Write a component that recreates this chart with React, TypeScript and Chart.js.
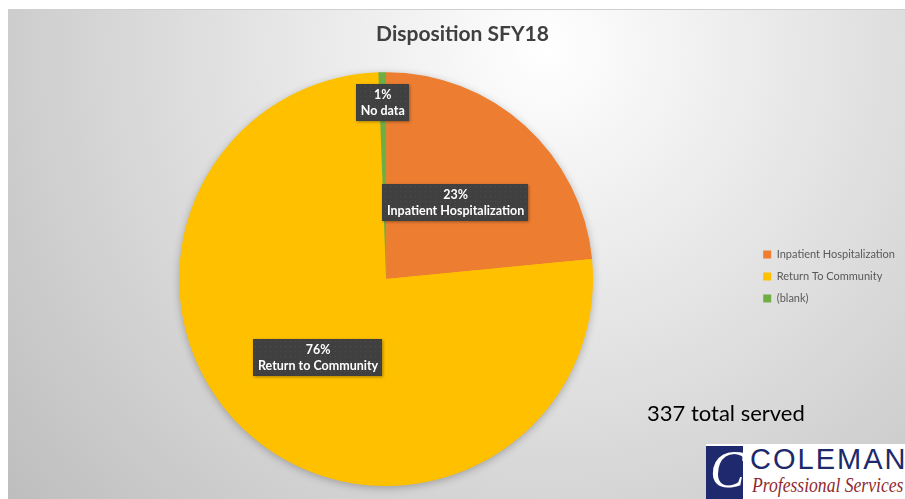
import React, { useEffect, useRef } from "react";
import { Chart, registerables } from "chart.js";

Chart.register(...registerables);

const categories = ["Inpatient Hospitalization", "Return To Community", "(blank)"];
const dataLabels = ["Inpatient Hospitalization", "Return to Community", "No data"];
const served = [79, 256, 2];
const sliceColors = ["#ED7D31", "#FFC000", "#70AD47"];
const labelRadius = [0.5, 0.5, 0.855];
const chartTitle = "Disposition SFY18";
const totalNote = "337 total served";

const bgPlugin = {
  id: "bgPlugin",
  beforeDraw(chart: any) {
    const { ctx, width, height } = chart;
    ctx.save();
    const cx = width * 0.6;
    const g = ctx.createRadialGradient(cx, 40, 0, cx, 40, 720);
    g.addColorStop(0, "#ffffff");
    g.addColorStop(1, "#bcbcbc");
    ctx.fillStyle = g;
    ctx.fillRect(0, 0, width, height);
    ctx.fillStyle = "#d0d0d0";
    ctx.fillRect(0, 0, width, 1);
    ctx.restore();
  },
  beforeDatasetsDraw(chart: any) {
    const meta = chart.getDatasetMeta(0);
    const arc = meta.data[0];
    if (!arc) return;
    const { x, y, outerRadius } = arc.getProps(["x", "y", "outerRadius"], true);
    const ctx = chart.ctx;
    ctx.save();
    ctx.shadowColor = "rgba(0,0,0,0.28)";
    ctx.shadowBlur = 9;
    ctx.shadowOffsetY = 2;
    ctx.beginPath();
    ctx.arc(x, y, outerRadius - 0.5, 0, Math.PI * 2);
    ctx.fillStyle = sliceColors[1];
    ctx.fill();
    ctx.restore();
  },
};

function makePattern(ctx: CanvasRenderingContext2D) {
  const c = document.createElement("canvas");
  c.width = 5;
  c.height = 5;
  const p = c.getContext("2d")!;
  p.fillStyle = "#404040";
  p.fillRect(0, 0, 5, 5);
  p.fillStyle = "#4f4f4f";
  p.fillRect(2, 2, 1, 1);
  return ctx.createPattern(c, "repeat");
}

const labelPlugin = {
  id: "labelPlugin",
  afterDatasetsDraw(chart: any) {
    const ctx: CanvasRenderingContext2D = chart.ctx;
    const meta = chart.getDatasetMeta(0);
    const total = served.reduce((a, b) => a + b, 0);
    const pattern = makePattern(ctx);
    meta.data.forEach((arc: any, i: number) => {
      const { x, y, startAngle, endAngle, outerRadius } = arc.getProps(
        ["x", "y", "startAngle", "endAngle", "outerRadius"],
        true
      );
      const mid = (startAngle + endAngle) / 2;
      const r = outerRadius * labelRadius[i];
      const cx = x + Math.cos(mid) * r;
      const cy = y + Math.sin(mid) * r;
      const pct = Math.round((served[i] / total) * 100) + "%";
      ctx.save();
      ctx.font = "bold 12.5px Lato";
      const w = Math.max(ctx.measureText(pct).width, ctx.measureText(dataLabels[i]).width) + 9;
      const h = 37;
      ctx.shadowColor = "rgba(0,0,0,0.35)";
      ctx.shadowBlur = 3;
      ctx.shadowOffsetX = 1;
      ctx.shadowOffsetY = 1;
      ctx.fillStyle = pattern || "#404040";
      ctx.fillRect(Math.round(cx - w / 2), Math.round(cy - h / 2), Math.round(w), h);
      ctx.shadowColor = "transparent";
      ctx.fillStyle = "#ffffff";
      ctx.textAlign = "center";
      ctx.textBaseline = "middle";
      ctx.fillText(pct, cx, cy - 7);
      ctx.fillText(dataLabels[i], cx, cy + 9);
      ctx.restore();
    });
  },
};

export default function App() {
  const canvasRef = useRef<HTMLCanvasElement | null>(null);

  useEffect(() => {
    if (!canvasRef.current) return;
    Chart.defaults.font.family = "Lato, 'Open Sans', sans-serif";
    const chart = new Chart(canvasRef.current, {
      type: "pie",
      data: {
        labels: categories,
        datasets: [
          {
            data: served,
            backgroundColor: sliceColors,
            borderWidth: 0,
          },
        ],
      },
      options: {
        animation: false,
        responsive: true,
        maintainAspectRatio: false,
        layout: { padding: { top: 0, bottom: 13, left: 12, right: 0 } },
        plugins: {
          title: {
            display: true,
            text: chartTitle,
            color: "#404040",
            font: { size: 21, weight: "bold", family: "Lato" },
            padding: { top: 13, bottom: 25 },
          },
          legend: {
            position: "right",
            title: {
              display: true,
              text: " ",
              font: { size: 10 },
              padding: { top: 23, bottom: 23 },
            },
            labels: {
              boxWidth: 8,
              boxHeight: 8,
              padding: 11,
              color: "#595959",
              font: { size: 11, family: "Lato" },
            },
          },
          tooltip: { enabled: false },
        },
      },
      plugins: [bgPlugin, labelPlugin],
    });
    return () => chart.destroy();
  }, []);

  return (
    <div
      style={{
        position: "absolute",
        left: 8,
        top: 9,
        width: 897,
        height: 490,
        overflow: "hidden",
      }}
    >
      <canvas ref={canvasRef} />
      <div
        style={{
          position: "absolute",
          left: 639,
          top: 393,
          fontFamily: "Lato, sans-serif",
          fontSize: 22,
          lineHeight: 1,
          color: "#000000",
          whiteSpace: "nowrap",
        }}
      >
        {totalNote}
      </div>
      <div
        style={{
          position: "absolute",
          left: 698,
          top: 435,
          width: 199,
          height: 55,
          background: "#ffffff",
          overflow: "hidden",
        }}
      >
        <div
          style={{
            position: "absolute",
            left: 0,
            top: 2,
            width: 37,
            height: 53,
            background: "#1f2a6e",
            overflow: "hidden",
          }}
        >
          <div
            style={{
              position: "absolute",
              left: 4,
              top: -2,
              fontFamily: "'Liberation Serif', serif",
              fontStyle: "italic",
              fontSize: 52,
              lineHeight: 1,
              color: "#ffffff",
            }}
          >
            C
          </div>
        </div>
        <div
          style={{
            position: "absolute",
            left: 44,
            top: 1,
            fontFamily: "'Liberation Sans', Arial, sans-serif",
            fontSize: 29,
            lineHeight: 1,
            letterSpacing: 2,
            color: "#1c2a6b",
            whiteSpace: "nowrap",
          }}
        >
          COLEMAN
        </div>
        <div
          style={{
            position: "absolute",
            left: 46,
            top: 30,
            fontFamily: "'Liberation Serif', serif",
            fontStyle: "italic",
            fontSize: 22,
            lineHeight: 1,
            color: "#8e2a2f",
            whiteSpace: "nowrap",
            transform: "scaleX(0.8)",
            transformOrigin: "left top",
          }}
        >
          Professional Services
        </div>
      </div>
    </div>
  );
}
